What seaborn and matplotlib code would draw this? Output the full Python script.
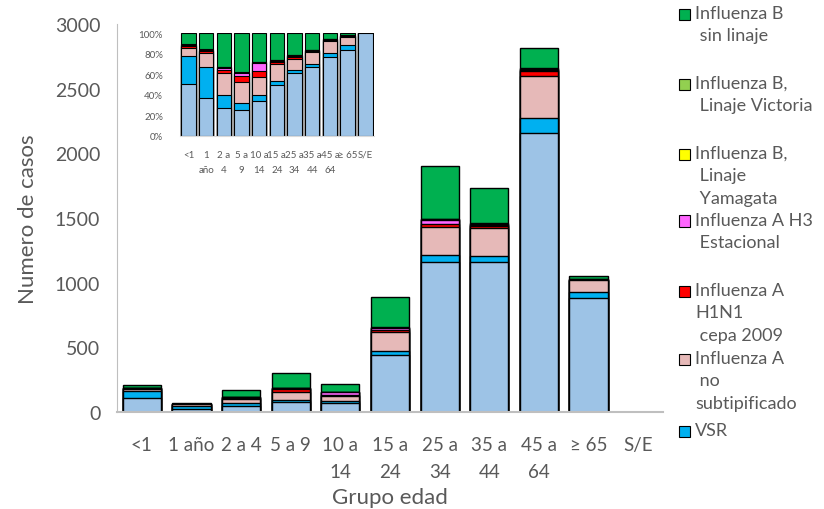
import matplotlib
matplotlib.use("Agg")
import matplotlib.pyplot as plt
from matplotlib.patches import Rectangle
import seaborn as sns
import numpy as np
import pandas as pd

# ====== data ======
grupos = ["<1", "1 año", "2 a 4", "5 a 9", "10 a 14", "15 a 24",
          "25 a 34", "35 a 44", "45 a 64", "≥ 65", "S/E"]
tick_main = ["<1", "1 año", "2 a 4", "5 a 9", "10 a\n14", "15 a\n24",
             "25 a\n34", "35 a\n44", "45 a\n64", "≥ 65", "S/E"]
tick_inset = ["<1", "1\naño", "2 a\n4", "5 a\n9", "10 a\n14", "15 a\n24",
              "25 a\n34", "35 a\n44", "45 a\n64", "≥ 65", "S/E"]

# stack order bottom -> top
otros = [106, 27, 46, 75, 73, 440, 1160, 1160, 2160, 885, 3]
vsr = [57, 22, 22, 20, 13, 32, 55, 50, 110, 45, 0]
a_no_subtip = [17, 10, 37, 62, 37, 145, 215, 210, 330, 88, 0]
a_h1n1 = [4, 1, 5, 18, 13, 20, 25, 20, 40, 4, 0]
a_h3 = [0, 0, 4, 8, 17, 12, 30, 10, 8, 0, 0]
b_yamagata = [2, 1, 1, 1, 1, 4, 4, 4, 6, 4, 0]
b_victoria = [2, 1, 1, 1, 1, 4, 4, 4, 6, 4, 0]
b_sin_linaje = [22, 11, 56, 115, 60, 230, 407, 277, 155, 23, 0]

series = [otros, vsr, a_no_subtip, a_h1n1, a_h3, b_yamagata, b_victoria, b_sin_linaje]
colores = ["#9DC3E6", "#00B0F0", "#E6B9B8", "#FF0000", "#FF66FF",
           "#FFFF00", "#92D050", "#00B050"]

leg_labels = ["Influenza B\n sin linaje", "Influenza B,\n Linaje Victoria",
              "Influenza B,\n Linaje\n Yamagata", "Influenza A H3\n Estacional",
              "Influenza A\nH1N1\n cepa 2009", "Influenza A\n no\nsubtipificado", "VSR"]
leg_colores = colores[1:][::-1]

sns.set_style("white")
plt.rcParams['font.family'] = ['Lato', 'DejaVu Sans']
gris = "#595959"

fig = plt.figure(figsize=(8.24, 5.1), dpi=100)
ax = fig.add_axes([0.142, 0.190, 0.6626, 0.761])
axi = fig.add_axes([0.218, 0.732, 0.236, 0.201])

cum = np.cumsum(np.array(series, dtype=float), axis=0)
total = cum[-1]
pct = cum / np.where(total > 0, total, 1) * 100

# draw cumulative bars from top layer down so each layer covers the one above
for i in range(len(series) - 1, -1, -1):
    df = pd.DataFrame({"grupo": grupos, "casos": cum[i], "pct": pct[i]})
    sns.barplot(data=df, x="grupo", y="casos", order=grupos, color=colores[i],
                saturation=1, width=0.77, edgecolor="black", linewidth=1,
                errorbar=None, ax=ax)
    sns.barplot(data=df, x="grupo", y="pct", order=grupos, color=colores[i],
                saturation=1, width=0.82, edgecolor="black", linewidth=0.8,
                errorbar=None, ax=axi)

# main axes
ax.set_ylim(0, 3000)
ax.set_yticks(range(0, 3001, 500))
ax.set_xticks(range(len(grupos)))
ax.set_xticklabels(tick_main, fontsize=13.5, color=gris, linespacing=1.75)
ax.tick_params(axis="y", labelsize=14, colors=gris, length=0, pad=12)
ax.tick_params(axis="x", length=0, pad=17)
ax.set_xlabel("Grupo edad", fontsize=16, color=gris, labelpad=5)
ax.set_ylabel("Numero de casos", fontsize=16, color=gris, labelpad=12)
for s in ["top", "right"]:
    ax.spines[s].set_visible(False)
ax.spines["left"].set_color("#BFBFBF")
ax.spines["bottom"].set_color("#BFBFBF")
ax.spines["bottom"].set_linewidth(1.5)

# inset (percent)
axi.set_ylim(0, 100)
axi.set_yticks(range(0, 101, 20))
axi.set_yticklabels([f"{v}%" for v in range(0, 101, 20)])
axi.set_xticks(range(len(grupos)))
axi.set_xticklabels(tick_inset, fontsize=7, color=gris, linespacing=1.9)
axi.tick_params(axis="y", labelsize=7, colors=gris, length=0, pad=12)
axi.tick_params(axis="x", length=0, pad=10)
axi.set_xlabel("")
axi.set_ylabel("")
axi.patch.set_alpha(0)
for s in ["top", "right", "left"]:
    axi.spines[s].set_visible(False)
axi.spines["bottom"].set_color("#D9D9D9")

# legend, placed by hand like the original
W, H = 824, 510
leg_y = [15, 85, 155, 222, 292, 360, 432]
for lab, col, y in zip(leg_labels, leg_colores, leg_y):
    fig.add_artist(Rectangle((679 / W, 1 - (y + 5.5) / H), 11 / W, 11 / H,
                             transform=fig.transFigure, facecolor=col,
                             edgecolor="black", linewidth=0.8))
    fig.text(695 / W, 1 - (y - 9) / H, lab, fontsize=13, color=gris,
             va="top", ha="left", linespacing=1.5)

fig.savefig("out.png", dpi=100)
